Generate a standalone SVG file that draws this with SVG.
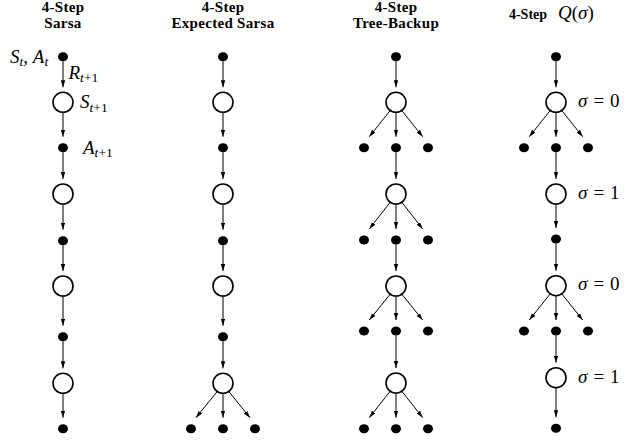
<svg xmlns="http://www.w3.org/2000/svg" width="640" height="444" viewBox="0 0 640 444">
<defs>
<style>
.title{font-family:"Liberation Serif",serif;font-weight:bold;font-size:15px;fill:#000;text-anchor:middle;letter-spacing:0.3px}
.math{font-family:"Liberation Serif",serif;font-size:19px;fill:#000}
.mi{font-style:italic}
.sub{font-size:13.5px}
.dot{fill:#000;stroke:none}
.st{fill:#fff;stroke:#000;stroke-width:1.6}
.arr{stroke:#000;stroke-width:1;fill:none;marker-end:url(#ah)}
</style>
<marker id="ah" markerUnits="userSpaceOnUse" markerWidth="8" markerHeight="6" refX="7" refY="2.2" orient="auto">
<path d="M0,0 L7,2.2 L0,4.4 Z" fill="#000"/>
</marker>
</defs>
<rect width="640" height="444" fill="#fff"/>

<g id="titles">
<text class="title" x="63" y="11.5">4-Step</text>
<text class="title" x="63" y="27.5">Sarsa</text>
<text class="title" x="223" y="11.5">4-Step</text>
<text class="title" x="223" y="27.5">Expected Sarsa</text>
<text class="title" x="396" y="11.5">4-Step</text>
<text class="title" x="396" y="27.5">Tree-Backup</text>
<text class="title" x="528" y="18.5" style="font-size:14px;letter-spacing:0">4-Step</text>
<text class="math" x="558" y="19" font-size="20px"><tspan class="mi">Q</tspan>(<tspan class="mi">σ</tspan>)</text>
</g>

<g id="connectors">
<!-- Sarsa -->
<line class="arr" x1="63" y1="61.2" x2="63" y2="87.3"/>
<line class="arr" x1="63" y1="112.3" x2="63" y2="136.7"/>
<line class="arr" x1="63" y1="152.2" x2="63" y2="179"/>
<line class="arr" x1="63" y1="204" x2="63" y2="229.7"/>
<line class="arr" x1="63" y1="245.2" x2="63" y2="271"/>
<line class="arr" x1="63" y1="296" x2="63" y2="325.7"/>
<line class="arr" x1="63" y1="341.2" x2="63" y2="368.3"/>
<line class="arr" x1="63" y1="393.3" x2="63" y2="417.7"/>
<!-- Expected Sarsa -->
<line class="arr" x1="223" y1="61.2" x2="223" y2="87.3"/>
<line class="arr" x1="223" y1="112.3" x2="223" y2="136.7"/>
<line class="arr" x1="223" y1="152.2" x2="223" y2="179"/>
<line class="arr" x1="223" y1="204" x2="223" y2="229.7"/>
<line class="arr" x1="223" y1="245.2" x2="223" y2="271"/>
<line class="arr" x1="223" y1="296" x2="223" y2="325.7"/>
<line class="arr" x1="223" y1="341.2" x2="223" y2="368.3"/>
<line class="arr" x1="217.2" y1="391.5" x2="196" y2="417.7"/>
<line class="arr" x1="223" y1="393.3" x2="223" y2="417.7"/>
<line class="arr" x1="228.8" y1="391.5" x2="250" y2="417.7"/>
<!-- Tree-Backup -->
<line class="arr" x1="396" y1="61.2" x2="396" y2="87.3"/>
<line class="arr" x1="390.2" y1="110.5" x2="369.3" y2="136.7"/>
<line class="arr" x1="396" y1="112.3" x2="396" y2="136.7"/>
<line class="arr" x1="401.8" y1="110.5" x2="422.7" y2="136.7"/>
<line class="arr" x1="396" y1="152.2" x2="396" y2="179"/>
<line class="arr" x1="390.2" y1="202.2" x2="369.3" y2="229"/>
<line class="arr" x1="396" y1="204" x2="396" y2="229"/>
<line class="arr" x1="401.8" y1="202.2" x2="422.7" y2="229"/>
<line class="arr" x1="396" y1="244.5" x2="396" y2="271"/>
<line class="arr" x1="390.2" y1="294.2" x2="369.3" y2="320"/>
<line class="arr" x1="396" y1="296" x2="396" y2="320"/>
<line class="arr" x1="401.8" y1="294.2" x2="422.7" y2="320"/>
<line class="arr" x1="396" y1="335.5" x2="396" y2="368"/>
<line class="arr" x1="390.2" y1="391.2" x2="369.3" y2="417.7"/>
<line class="arr" x1="396" y1="393" x2="396" y2="417.7"/>
<line class="arr" x1="401.8" y1="391.2" x2="422.7" y2="417.7"/>
<!-- Q(sigma) -->
<line class="arr" x1="556" y1="61.2" x2="556" y2="87.3"/>
<line class="arr" x1="550.2" y1="110.5" x2="529.3" y2="136.7"/>
<line class="arr" x1="556" y1="112.3" x2="556" y2="136.7"/>
<line class="arr" x1="561.8" y1="110.5" x2="582.7" y2="136.7"/>
<line class="arr" x1="556" y1="152.2" x2="556" y2="179"/>
<line class="arr" x1="556" y1="204" x2="556" y2="228"/>
<line class="arr" x1="556" y1="243.5" x2="556" y2="270.7"/>
<line class="arr" x1="550.2" y1="293.9" x2="529.3" y2="320"/>
<line class="arr" x1="556" y1="295.7" x2="556" y2="320"/>
<line class="arr" x1="561.8" y1="293.9" x2="582.7" y2="320"/>
<line class="arr" x1="556" y1="335.5" x2="556" y2="362.7"/>
<line class="arr" x1="556" y1="387.7" x2="556" y2="417.3"/>
</g>

<g id="sarsa">
<ellipse class="dot" cx="63" cy="56.7" rx="5" ry="4.5"/>
<circle class="st" cx="63" cy="102.3" r="10"/>
<ellipse class="dot" cx="63" cy="147.7" rx="5" ry="4.5"/>
<circle class="st" cx="63" cy="194" r="10"/>
<ellipse class="dot" cx="63" cy="240.7" rx="5" ry="4.5"/>
<circle class="st" cx="63" cy="286" r="10"/>
<ellipse class="dot" cx="63" cy="336.7" rx="5" ry="4.5"/>
<circle class="st" cx="63" cy="383.3" r="10"/>
<ellipse class="dot" cx="63" cy="428.7" rx="5" ry="4.5"/>
<text class="math" x="10" y="62.5"><tspan class="mi">S</tspan><tspan class="mi sub" dy="3.5">t</tspan><tspan dy="-3.5">, </tspan><tspan class="mi">A</tspan><tspan class="mi sub" dy="3.5">t</tspan></text>
<text class="math" x="68.5" y="78.5"><tspan class="mi">R</tspan><tspan class="sub" dy="3.5"><tspan class="mi">t</tspan>+1</tspan></text>
<text class="math" x="80" y="108"><tspan class="mi">S</tspan><tspan class="sub" dy="3.5"><tspan class="mi">t</tspan>+1</tspan></text>
<text class="math" x="83" y="153.5"><tspan class="mi">A</tspan><tspan class="sub" dy="3.5"><tspan class="mi">t</tspan>+1</tspan></text>
</g>

<g id="expected-sarsa">
<ellipse class="dot" cx="223" cy="56.7" rx="5" ry="4.5"/>
<circle class="st" cx="223" cy="102.3" r="10"/>
<ellipse class="dot" cx="223" cy="147.7" rx="5" ry="4.5"/>
<circle class="st" cx="223" cy="194" r="10"/>
<ellipse class="dot" cx="223" cy="240.7" rx="5" ry="4.5"/>
<circle class="st" cx="223" cy="286" r="10"/>
<ellipse class="dot" cx="223" cy="336.7" rx="5" ry="4.5"/>
<circle class="st" cx="223" cy="383.3" r="10"/>
<ellipse class="dot" cx="191" cy="428.7" rx="5" ry="4.5"/>
<ellipse class="dot" cx="223" cy="428.7" rx="5" ry="4.5"/>
<ellipse class="dot" cx="255" cy="428.7" rx="5" ry="4.5"/>
</g>

<g id="tree-backup">
<ellipse class="dot" cx="396" cy="56.7" rx="5" ry="4.5"/>
<circle class="st" cx="396" cy="102.3" r="10"/>
<ellipse class="dot" cx="364" cy="147.7" rx="5" ry="4.5"/>
<ellipse class="dot" cx="396" cy="147.7" rx="5" ry="4.5"/>
<ellipse class="dot" cx="428" cy="147.7" rx="5" ry="4.5"/>
<circle class="st" cx="396" cy="194" r="10"/>
<ellipse class="dot" cx="364" cy="240" rx="5" ry="4.5"/>
<ellipse class="dot" cx="396" cy="240" rx="5" ry="4.5"/>
<ellipse class="dot" cx="428" cy="240" rx="5" ry="4.5"/>
<circle class="st" cx="396" cy="286" r="10"/>
<ellipse class="dot" cx="364" cy="331" rx="5" ry="4.5"/>
<ellipse class="dot" cx="396" cy="331" rx="5" ry="4.5"/>
<ellipse class="dot" cx="428" cy="331" rx="5" ry="4.5"/>
<circle class="st" cx="396" cy="383" r="10"/>
<ellipse class="dot" cx="364" cy="428.7" rx="5" ry="4.5"/>
<ellipse class="dot" cx="396" cy="428.7" rx="5" ry="4.5"/>
<ellipse class="dot" cx="428" cy="428.7" rx="5" ry="4.5"/>
</g>

<g id="q-sigma">
<ellipse class="dot" cx="556" cy="56.7" rx="5" ry="4.5"/>
<circle class="st" cx="556" cy="102.3" r="10"/>
<ellipse class="dot" cx="524" cy="147.7" rx="5" ry="4.5"/>
<ellipse class="dot" cx="556" cy="147.7" rx="5" ry="4.5"/>
<ellipse class="dot" cx="588" cy="147.7" rx="5" ry="4.5"/>
<circle class="st" cx="556" cy="194" r="10"/>
<ellipse class="dot" cx="556" cy="239" rx="5" ry="4.5"/>
<circle class="st" cx="556" cy="285.7" r="10"/>
<ellipse class="dot" cx="524" cy="331" rx="5" ry="4.5"/>
<ellipse class="dot" cx="556" cy="331" rx="5" ry="4.5"/>
<ellipse class="dot" cx="588" cy="331" rx="5" ry="4.5"/>
<circle class="st" cx="556" cy="377.7" r="10"/>
<ellipse class="dot" cx="556" cy="428.3" rx="5" ry="4.5"/>
<text class="math" x="578" y="106.5"><tspan class="mi">σ</tspan><tspan dx="6">=</tspan><tspan dx="6">0</tspan></text>
<text class="math" x="578" y="198.5"><tspan class="mi">σ</tspan><tspan dx="6">=</tspan><tspan dx="6">1</tspan></text>
<text class="math" x="578" y="290"><tspan class="mi">σ</tspan><tspan dx="6">=</tspan><tspan dx="6">0</tspan></text>
<text class="math" x="578" y="382.5"><tspan class="mi">σ</tspan><tspan dx="6">=</tspan><tspan dx="6">1</tspan></text>
</g>
</svg>
